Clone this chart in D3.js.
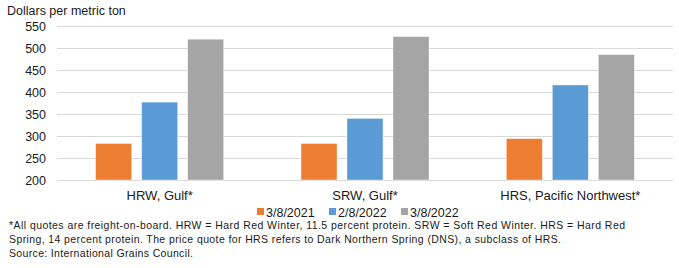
<!DOCTYPE html>
<html>
<head>
<meta charset="utf-8">
<script src="https://cdn.jsdelivr.net/npm/d3@7"></script>
<style>
  body { margin: 0; background: #fff; }
  svg { display: block; font-family: "Liberation Sans", Arial, sans-serif; }
</style>
</head>
<body>
<div id="chart"></div>
<script>
const categories = ['HRW, Gulf*', 'SRW, Gulf*', 'HRS, Pacific Northwest*'];
const series = ['3/8/2021', '2/8/2022', '3/8/2022'];
const values = {
  '3/8/2021': [283, 283, 294],
  '2/8/2022': [377, 340, 416],
  '3/8/2022': [520, 526, 485]
};
const yTicks = [200, 250, 300, 350, 400, 450, 500, 550];
const colors = ['#ED7D31', '#5B9BD5', '#A5A5A5'];
const yTitle = 'Dollars per metric ton';
const notes = [
  '*All quotes are freight-on-board. HRW = Hard Red Winter, 11.5 percent protein. SRW = Soft Red Winter. HRS = Hard Red',
  'Spring, 14 percent protein. The price quote for HRS refers to Dark Northern Spring (DNS), a subclass of HRS.',
  'Source: International Grains Council.'
];

const width = 679, height = 268;
const margin = { top: 26, right: 6, bottom: 88, left: 57 };

const svg = d3.select('#chart').append('svg')
  .attr('width', width)
  .attr('height', height);

const x0 = d3.scaleBand()
  .domain(categories)
  .range([margin.left, width - margin.right]);

const groupWidth = 128;
const x1 = d3.scaleBand()
  .domain(series)
  .range([0, groupWidth])
  .paddingInner(0.217);

const y = d3.scaleLinear()
  .domain([200, 550])
  .range([height - margin.bottom, margin.top]);

const color = d3.scaleOrdinal().domain(series).range(colors);

// gridlines
svg.append('g')
  .selectAll('line')
  .data(yTicks)
  .join('line')
  .attr('x1', margin.left)
  .attr('x2', width - margin.right)
  .attr('y1', d => Math.round(y(d)) + 0.5)
  .attr('y2', d => Math.round(y(d)) + 0.5)
  .attr('stroke', '#d9d9d9')
  .attr('stroke-width', 1);

// y axis labels
const yAxis = svg.append('g')
  .attr('transform', `translate(${margin.left - 11},0)`)
  .call(d3.axisLeft(y).tickValues(yTicks).tickSize(0).tickPadding(0));
yAxis.select('.domain').remove();
yAxis.selectAll('text')
  .attr('font-size', '12.5px')
  .attr('font-family', '"Liberation Sans", Arial, sans-serif')
  .attr('fill', '#1a1a1a');

// bars
const groups = svg.append('g')
  .selectAll('g')
  .data(categories)
  .join('g')
  .attr('transform', d => `translate(${x0(d) + x0.bandwidth() / 2 - groupWidth / 2},0)`);

groups.selectAll('rect')
  .data((c, i) => series.map(s => ({ s, v: values[s][i] })))
  .join('rect')
  .attr('x', d => x1(d.s))
  .attr('width', x1.bandwidth())
  .attr('y', d => y(d.v))
  .attr('height', d => y(200) - y(d.v))
  .attr('fill', d => color(d.s))
  .attr('stroke', '#ffffff')
  .attr('stroke-opacity', 0.5)
  .attr('stroke-width', 0.8);

// x axis labels
const xAxis = svg.append('g')
  .attr('transform', `translate(0,${y(200)})`)
  .call(d3.axisBottom(x0).tickSize(0).tickPadding(11));
xAxis.select('.domain').remove();
xAxis.selectAll('text')
  .attr('font-size', '13px')
  .attr('font-family', '"Liberation Sans", Arial, sans-serif')
  .attr('fill', '#1a1a1a');

// y title
svg.append('text')
  .attr('x', 7)
  .attr('y', 15)
  .attr('font-size', '12.5px')
  .attr('fill', '#1a1a1a')
  .text(yTitle);

// legend
const legendX = [257, 329, 401];
const legend = svg.append('g')
  .selectAll('g')
  .data(series)
  .join('g')
  .attr('transform', (d, i) => `translate(${legendX[i]},217)`);

legend.append('rect')
  .attr('x', 0)
  .attr('y', -9)
  .attr('width', 7)
  .attr('height', 7)
  .attr('fill', d => color(d));

legend.append('text')
  .attr('x', 9)
  .attr('y', 0)
  .attr('font-size', '12.5px')
  .attr('fill', '#1a1a1a')
  .text(d => d);

// notes
svg.append('g')
  .selectAll('text')
  .data(notes)
  .join('text')
  .attr('x', 9)
  .attr('y', (d, i) => [229, 243, 257][i])
  .attr('font-size', '10.5px')
  .attr('fill', '#1a1a1a')
  .attr('textLength', (d, i) => [616, 552, 184][i])
  .attr('lengthAdjust', 'spacing')
  .text(d => d);
</script>
</body>
</html>
